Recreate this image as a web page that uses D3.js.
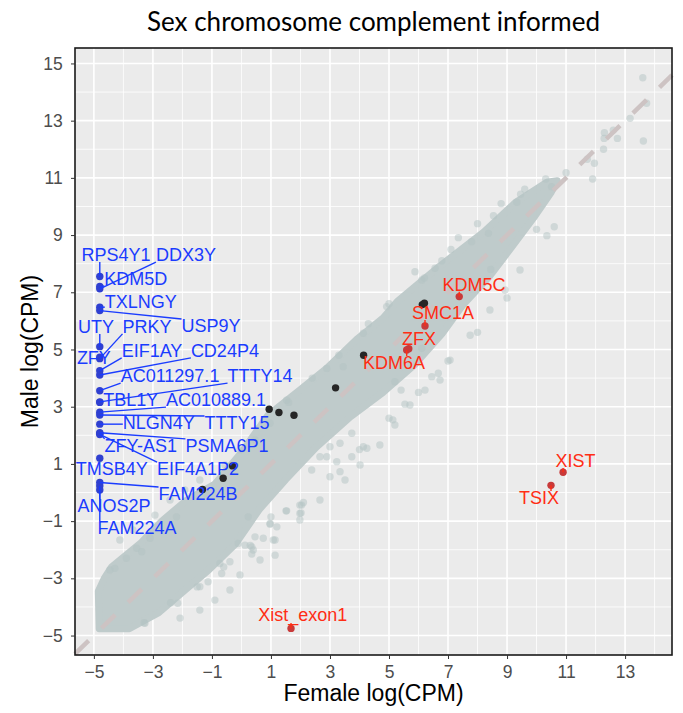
<!DOCTYPE html>
<html>
<head>
<meta charset="utf-8">
<script src="https://cdn.jsdelivr.net/npm/d3@7"></script>
<style>
  body { margin: 0; background: #fff; }
  text { font-family: "Liberation Sans", Arial, sans-serif; }
</style>
</head>
<body>
<div id="chart"></div>
<script>
// ---- data ----

// Y-linked genes (blue): female logCPM is at the floor
var blueGenes = ["RPS4Y1","KDM5D","DDX3Y","TXLNGY","USP9Y","UTY","ZFY","PRKY","EIF1AY","CD24P4",
  "AC011297.1","TTTY14","TBL1Y","AC010889.1","TTTY15","NLGN4Y","ZFY-AS1","PSMA6P1","EIF4A1P2",
  "TMSB4Y","FAM224B","FAM224A","ANOS2P"];
var blueFemale = [-4.8,-4.8,-4.8,-4.8,-4.8,-4.8,-4.8,-4.8,-4.8,-4.8,-4.8,-4.8,-4.8,-4.8,-4.8,
  -4.8,-4.8,-4.8,-4.8,-4.8,-4.8,-4.8,-4.8];
var blueMale = [7.55,7.2,7.12,6.48,6.36,5.10,4.73,4.68,4.26,4.11,3.56,3.17,3.15,2.81,2.71,
  2.39,2.06,2.09,2.03,1.20,0.35,0.23,0.09];

// X-linked genes (red)
var redGenes = ["KDM5C","SMC1A","ZFX","KDM6A","XIST","TSIX","Xist_exon1"];
var redFemale = [7.38, 6.22, 5.67, 5.60, 10.9, 10.49, 1.68];
var redMale = [6.85, 5.82, 5.03, 4.98, 0.71, 0.25, -4.75];

// other highlighted genes (black, unlabelled)
var blackFemale = [0.94, 1.27, 1.78, -0.30, -0.62, -1.32, 3.19, 4.14, 6.13, 6.20];
var blackMale = [2.91, 2.80, 2.70, 0.93, 0.50, 0.11, 3.66, 4.80, 6.57, 6.62];

// outline of the dense cloud of all other genes (female, male)
var cloudEdgeFemale = [-4.82,-4.85,-4.65,-4.4,-3.4,-2.7,-1.9,-0.9,0.0,0.9,2.0,2.9,3.9,4.8,5.3,6.7,
  8.2,9.3,10.35,10.7,10.5,9.9,9.1,8.4,7.5,6.8,5.9,4.8,3.7,2.55,1.5,0.6,-0.2,-1.1,-1.9,-2.8,-3.8];
var cloudEdgeMale = [-4.76,-3.45,-3.0,-2.6,-1.75,-1.0,-0.3,0.3,1.4,2.7,3.6,4.35,5.35,6.1,6.7,7.9,
  9.1,10.15,10.85,10.9,10.5,9.6,8.5,7.55,6.55,5.55,4.5,3.5,2.65,1.6,0.45,-0.6,-1.8,-2.7,-3.4,-4.2,-4.76];

// scattered genes outside the dense cloud
var greyFemale = [13.6,13.73,13.62,13.17,12.74,12.6,12.3,12.29,12.27,11.72,11.96,11.9,11.0,10.6,
  10.35,10.31,10.51,9.46,9.33,8.54,8.37,7.35,7.8,6.79,6.56,5.88,6.11,8.45,10.0,
  5.13,5.54,5.41,6.45,6.67,6.11,5.2,4.25,4.13,3.74,3.34,3.23,2.89,2.66,2.38,3.74,3.34,3.0,
  1.98,1.98,1.53,0.97,0.46,1.08,0.74,0.4,1.53,2.89,3.45,4.13,4.92,0.97,
  -4.29,-4.46,-3.55,-3.38,2.04,2.02,1.51,1.0,0.97,1.14,0.35,0.35,0.23,-0.11,-0.39,-0.67,
  -1.13,-1.41,-2.16,-3.27,-0.73,
  -4.12,-3.68,-2.93,-2.42,-1.92,-1.41,-0.56,-0.05,0.46,0.12,0.63,-0.05,-0.39,-0.9,-1.41,-2.08,
  1.14,1.98,2.66,3.51,4.02,4.69,5.2,5.71,6.22,6.73,7.07,7.75,8.42,8.93,9.44,
  -3.9,-3.1,-2.2,-1.2,-0.3,1.6,2.4,3.3,4.3,5.0,6.2,7.1,8.0,8.8,9.6,
  -3.3,-2.4,-1.5,-0.6,0.3,1.2,2.1,3.0,4.0,5.0,6.0,7.0,8.0,9.0];
var greyMale = [14.5,13.61,12.29,13.08,12.38,12.67,12.58,12.38,12.0,11.65,11.51,10.96,11.18,9.29,
  8.98,10.96,10.69,10.43,10.15,9.68,9.06,8.91,8.77,8.1,7.84,7.72,7.43,7.8,9.2,
  2.54,3.09,3.58,4.05,4.17,5.04,3.87,1.55,1.6,1.25,0.73,1.08,1.25,1.25,0.79,2.07,1.72,1.6,
  -0.73,-0.44,-0.64,-1.08,-1.55,-1.66,-1.6,-2.01,3.23,4.34,4.4,5.57,6.5,2.42,
  -2.65,-2.71,-1.95,-2.07,-0.44,-0.71,-0.64,-0.85,-1.11,-1.66,-1.9,-2.15,-0.85,-1.78,-2.42,-2.83,
  -3.12,-3.29,-3.87,-4.57,-2.48,
  -1.66,-1.31,-0.79,-0.26,0.09,0.44,0.96,1.49,1.84,-1.84,-2.36,-2.88,-3.41,-3.76,-4.11,-4.39,
  -2.19,-0.96,-0.26,0.44,0.96,1.66,2.36,3.06,3.58,3.93,4.63,5.5,6.38,7.08,7.78,
  -2.3,-1.6,-0.85,-0.05,0.95,3.15,4.0,4.8,5.9,6.6,7.5,8.5,9.4,10.1,10.6,
  -4.55,-3.85,-3.3,-2.6,-1.85,-1.2,-0.35,0.55,1.5,2.6,3.5,4.6,5.6,6.8];

var xTicks = [-5,-3,-1,1,3,5,7,9,11,13];
var yTicks = [-5,-3,-1,1,3,5,7,9,11,13,15];

// where the repelled labels ended up (data units)
var blueLabelAt = [[-4.25,8.30],[-3.58,7.47],[-1.88,8.30],[-3.41,6.66],[-1.03,5.82],[-4.93,5.79],
  [-5.0,4.70],[-3.20,5.79],[-3.03,4.95],[-0.56,4.95],[-2.42,4.07],[0.63,4.07],[-3.75,3.23],
  [-0.86,3.23],[-0.15,2.43],[-2.80,2.43],[-3.41,1.63],[-0.49,1.63],[-1.47,0.82],[-4.39,0.82],
  [-1.47,-0.05],[-3.54,-1.24],[-4.32,-0.47]];
var redLabelAt = [[7.88,7.26],[6.83,6.28],[6.02,5.37],[5.17,4.53],[11.32,1.10],[10.08,-0.19],[2.08,-4.28]];

// ---- chart ----
var W = 683, H = 713;
var margin = {left: 75, right: 11, top: 48, bottom: 58};

var svg = d3.select("#chart").append("svg")
    .attr("width", W).attr("height", H);
svg.append("rect").attr("width", W).attr("height", H).attr("fill", "#fff");

var x = d3.scaleLinear().domain([-5.64, 14.59]).range([margin.left, W - margin.right]);
var y = d3.scaleLinear().domain([-5.68, 15.54]).range([H - margin.bottom, margin.top]);

// panel background + grid
svg.append("rect")
    .attr("x", x.range()[0]).attr("y", y.range()[1])
    .attr("width", x.range()[1] - x.range()[0])
    .attr("height", y.range()[0] - y.range()[1])
    .attr("fill", "#ebebeb");

var grid = svg.append("g");
d3.range(-4, 15, 2).forEach(function(v) {
  grid.append("line").attr("x1", x(v)).attr("x2", x(v))
      .attr("y1", y.range()[0]).attr("y2", y.range()[1])
      .attr("stroke", "#fff").attr("stroke-width", 0.8);
});
d3.range(-4, 16, 2).forEach(function(v) {
  grid.append("line").attr("y1", y(v)).attr("y2", y(v))
      .attr("x1", x.range()[0]).attr("x2", x.range()[1])
      .attr("stroke", "#fff").attr("stroke-width", 0.8);
});
xTicks.forEach(function(v) {
  grid.append("line").attr("x1", x(v)).attr("x2", x(v))
      .attr("y1", y.range()[0]).attr("y2", y.range()[1])
      .attr("stroke", "#fff").attr("stroke-width", 1.6);
});
yTicks.forEach(function(v) {
  grid.append("line").attr("y1", y(v)).attr("y2", y(v))
      .attr("x1", x.range()[0]).attr("x2", x.range()[1])
      .attr("stroke", "#fff").attr("stroke-width", 1.6);
});

var plot = svg.append("g");

// dense cloud
var cloud = cloudEdgeFemale.map(function(d, i) { return [x(d), y(cloudEdgeMale[i])]; });
plot.append("path")
    .attr("d", d3.line()(cloud) + "Z")
    .attr("fill", "#bfcbcb")
    .attr("stroke", "#bfcbcb")
    .attr("stroke-width", 7)
    .attr("stroke-linejoin", "round");

// scattered genes
plot.append("g").selectAll("circle")
    .data(greyFemale)
    .enter().append("circle")
    .attr("cx", function(d) { return x(d); })
    .attr("cy", function(d, i) { return y(greyMale[i]); })
    .attr("r", 3.7)
    .attr("fill", "#b3c3c3")
    .attr("fill-opacity", 0.5);

// y = x reference line
plot.append("line")
    .attr("x1", x(-5.64)).attr("y1", y(-5.64))
    .attr("x2", x(14.59)).attr("y2", y(14.59))
    .attr("stroke", "#cdc3c3")
    .attr("stroke-width", 4.5)
    .attr("stroke-dasharray", "19,18");

// black genes
plot.append("g").selectAll("circle")
    .data(blackFemale)
    .enter().append("circle")
    .attr("cx", function(d) { return x(d); })
    .attr("cy", function(d, i) { return y(blackMale[i]); })
    .attr("r", 3.7)
    .attr("fill", "#262626");

// red genes
plot.append("g").selectAll("circle")
    .data(redFemale)
    .enter().append("circle")
    .attr("cx", function(d) { return x(d); })
    .attr("cy", function(d, i) { return y(redMale[i]); })
    .attr("r", 3.7)
    .attr("fill", "#c83a3a");

// blue genes
plot.append("g").selectAll("circle")
    .data(blueFemale)
    .enter().append("circle")
    .attr("cx", function(d) { return x(d); })
    .attr("cy", function(d, i) { return y(blueMale[i]); })
    .attr("r", 3.7)
    .attr("fill", "#3040d0");

// labels with leader segments
function addLabels(names, px, py, at, color) {
  var segs = plot.append("g");
  var txt = plot.append("g");
  names.forEach(function(name, i) {
    var t = txt.append("text")
        .attr("x", x(at[i][0])).attr("y", y(at[i][1]))
        .attr("text-anchor", "middle")
        .attr("dominant-baseline", "central")
        .attr("font-size", 18)
        .attr("fill", color)
        .text(name);
    var b = t.node().getBBox();
    var cx = x(px[i]), cy = y(py[i]);
    var ex = Math.max(b.x, Math.min(cx, b.x + b.width));
    var ey = Math.max(b.y + 3, Math.min(cy, b.y + b.height - 3));
    var dist = Math.hypot(ex - cx, ey - cy);
    if (dist > 4) {
      segs.append("line")
          .attr("x1", cx).attr("y1", cy).attr("x2", ex).attr("y2", ey)
          .attr("stroke", color).attr("stroke-width", 1.4);
    }
  });
}
addLabels(blueGenes, blueFemale, blueMale, blueLabelAt, "#1a3cff");
addLabels(redGenes, redFemale, redMale, redLabelAt, "#ff2d14");

// panel border
svg.append("rect")
    .attr("x", x.range()[0]).attr("y", y.range()[1])
    .attr("width", x.range()[1] - x.range()[0])
    .attr("height", y.range()[0] - y.range()[1])
    .attr("fill", "none").attr("stroke", "#1a1a1a").attr("stroke-width", 1.6);

// axes
var xAxis = svg.append("g")
    .attr("transform", "translate(0," + y.range()[0] + ")")
    .call(d3.axisBottom(x).tickValues(xTicks).tickSize(4).tickSizeOuter(0).tickFormat(d3.format("d")));
var yAxis = svg.append("g")
    .attr("transform", "translate(" + x.range()[0] + ",0)")
    .call(d3.axisLeft(y).tickValues(yTicks).tickSize(4).tickSizeOuter(0).tickFormat(d3.format("d")));
[xAxis, yAxis].forEach(function(a) {
  a.select(".domain").remove();
  a.selectAll(".tick line").attr("stroke", "#333");
  a.selectAll(".tick text").attr("fill", "#4d4d4d").attr("font-size", 17.5)
      .attr("font-family", "Liberation Sans, Arial, sans-serif");
});
xAxis.selectAll(".tick text").attr("dy", "0.9em");
yAxis.selectAll(".tick text").attr("dx", "-0.3em");

// titles
svg.append("text")
    .attr("x", (x.range()[0] + x.range()[1]) / 2).attr("y", 31)
    .attr("text-anchor", "middle")
    .attr("font-size", 26)
    .style("font-family", "Lato, sans-serif")
    .attr("fill", "#000")
    .text("Sex chromosome complement informed");

svg.append("text")
    .attr("x", (x.range()[0] + x.range()[1]) / 2).attr("y", 701)
    .attr("text-anchor", "middle")
    .attr("font-size", 23)
    .attr("fill", "#000")
    .text("Female log(CPM)");

svg.append("text")
    .attr("transform", "translate(38," + ((y.range()[0] + y.range()[1]) / 2) + ") rotate(-90)")
    .attr("text-anchor", "middle")
    .attr("font-size", 23)
    .attr("fill", "#000")
    .text("Male log(CPM)");
</script>
</body>
</html>
